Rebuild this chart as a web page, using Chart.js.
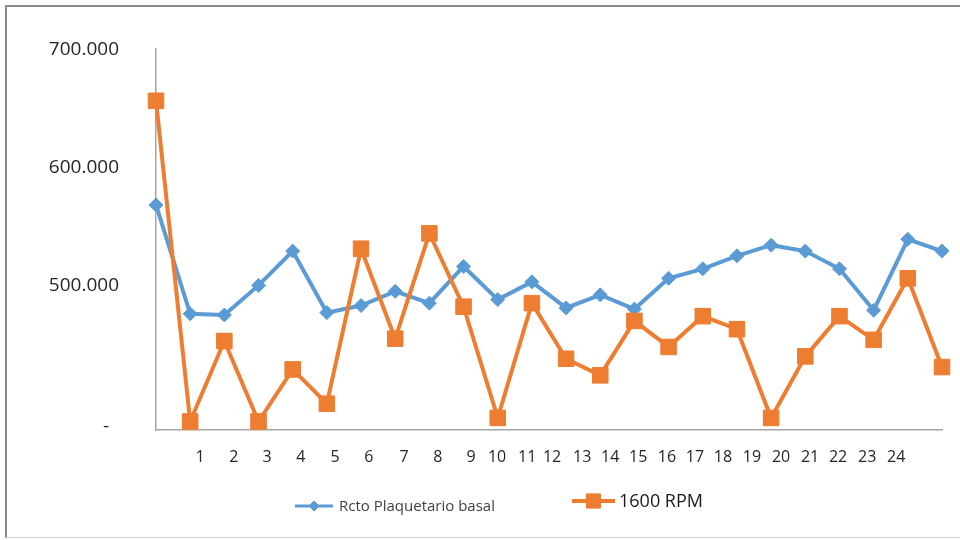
<!DOCTYPE html>
<html>
<head>
<meta charset="utf-8">
<title>Rcto Plaquetario</title>
<script src="https://cdn.jsdelivr.net/npm/chart.js@4.4.1/dist/chart.umd.min.js"></script>
<style>
  html, body { margin: 0; padding: 0; background: #fff; }
  #wrap { position: relative; width: 960px; height: 540px; overflow: hidden; }
  #frame {
    position: absolute; left: 5px; top: 5px; width: 960px; height: 530px;
    border-left: 2px solid #8c8c8c; border-top: 2px solid #8c8c8c; border-bottom: 1px solid #d0d0d0;
  }
  canvas { position: absolute; left: 0; top: 0; }
</style>
</head>
<body>
<div id="wrap">
  <div id="frame"></div>
  <canvas id="chart" width="960" height="540"></canvas>
</div>
<script>
// x tick labels and where they sit along the point index axis
const xLabels = ['1', '2', '3', '4', '5', '6', '7', '8', '9', '10', '11', '12',
                 '13', '14', '15', '16', '17', '18', '19', '20', '21', '22', '23', '24'];
const xTickPos = [1.29, 2.28, 3.25, 4.24, 5.24, 6.23, 7.26, 8.25, 9.22, 9.98, 10.86, 11.59,
                  12.47, 13.29, 14.11, 14.95, 15.77, 16.59, 17.44, 18.29, 19.14, 19.96, 20.81, 21.66];

// series values
const basal = [571000, 479000, 478000, 503000, 532000, 480000, 486000, 498000, 488000, 519000, 491000, 506000,
               484000, 495000, 483000, 509000, 517000, 528000, 537000, 532000, 517000, 482000, 542000, 532000];
const rpm1600 = [659000, 388000, 456000, 388000, 432000, 403000, 534000, 458000, 547000, 485000, 391000, 488000,
                 441000, 427000, 473000, 451000, 477000, 466000, 391000, 443000, 477000, 457000, 509000, 434000];

// y axis
const yMin = 380800;
const yMax = 703300;
const yTicks = [500000, 600000, 700000];

const BLUE = '#5B9BD5';
const ORANGE = '#ED7D31';

function fmtMiles(v) {
    return String(Math.round(v / 1000)) + '.000';
}

// Excel style legend: line with marker in the middle
const excelLegend = {
    id: 'excelLegend',
    afterDraw(chart, args, opts) {
        const ctx = chart.ctx;
        opts.items.forEach(item => {
            const ds = chart.data.datasets[item.dataset];
            ctx.save();
            ctx.strokeStyle = ds.borderColor;
            ctx.lineWidth = item.lineWidth;
            ctx.beginPath();
            ctx.moveTo(item.x, item.y);
            ctx.lineTo(item.x + item.len, item.y);
            ctx.stroke();
            ctx.fillStyle = ds.pointBackgroundColor;
            ctx.strokeStyle = ds.pointBorderColor;
            ctx.lineWidth = 1;
            Chart.helpers.drawPoint(ctx, { pointStyle: ds.pointStyle, radius: item.radius, borderWidth: 1, rotation: 0 },
                item.x + item.len / 2, item.y);
            ctx.fillStyle = item.color;
            ctx.font = item.font;
            ctx.textAlign = 'left';
            ctx.textBaseline = 'middle';
            ctx.fillText(ds.label, item.x + item.len + item.gap, item.y + 1);
            ctx.restore();
        });
    }
};

new Chart(document.getElementById('chart'), {
    type: 'line',
    data: {
        datasets: [{
            label: 'Rcto Plaquetario basal',
            data: basal.map((v, i) => ({ x: i, y: v })),
            borderColor: BLUE,
            backgroundColor: BLUE,
            pointBackgroundColor: BLUE,
            pointBorderColor: BLUE,
            pointStyle: 'rectRot',
            pointRadius: 7,
            pointBorderWidth: 1,
            borderWidth: 4,
            tension: 0,
            clip: false,
            order: 2
        }, {
            label: '1600 RPM',
            data: rpm1600.map((v, i) => ({ x: i, y: v })),
            borderColor: ORANGE,
            backgroundColor: ORANGE,
            pointBackgroundColor: ORANGE,
            pointBorderColor: ORANGE,
            pointStyle: 'rect',
            pointRadius: 11,
            pointBorderWidth: 1,
            borderWidth: 4,
            tension: 0,
            clip: false,
            order: 1
        }]
    },
    options: {
        responsive: false,
        animation: false,
        layout: { padding: { left: 0, right: 18, top: 43, bottom: 50 } },
        plugins: {
            legend: { display: false },
            tooltip: { enabled: false },
            excelLegend: {
                items: [
                    { dataset: 0, x: 295, y: 506, len: 38, lineWidth: 3, radius: 5, gap: 6,
                      font: '15px "Open Sans"', color: '#404040' },
                    { dataset: 1, x: 572, y: 501, len: 43, lineWidth: 4, radius: 10, gap: 4,
                      font: '18px "Open Sans"', color: '#1a1a1a' }
                ]
            }
        },
        scales: {
            x: {
                type: 'linear',
                min: 0,
                max: 23,
                grid: { display: false, drawTicks: false },
                border: { display: true, color: '#a6a6a6', width: 1.5 },
                afterBuildTicks: s => { s.ticks = xTickPos.map(v => ({ value: v })); },
                afterFit: s => { s.height = 60; },
                ticks: {
                    autoSkip: false,
                    maxRotation: 0,
                    padding: 18,
                    color: '#262626',
                    font: { family: 'Open Sans', size: 16 },
                    callback: (v, i) => xLabels[i]
                }
            },
            y: {
                min: yMin,
                max: yMax,
                grid: { display: false, drawTicks: false },
                border: { display: true, color: '#a6a6a6', width: 1.5 },
                afterBuildTicks: s => { s.ticks = [yMin].concat(yTicks).map(v => ({ value: v })); },
                afterFit: s => { s.width = 156; },
                ticks: {
                    padding: 37,
                    labelOffset: -3,
                    color: '#262626',
                    font: { family: 'Open Sans', size: 19 },
                    callback: v => (v === yMin ? '-  ' : fmtMiles(v))
                }
            }
        }
    },
    plugins: [excelLegend]
});
</script>
</body>
</html>
